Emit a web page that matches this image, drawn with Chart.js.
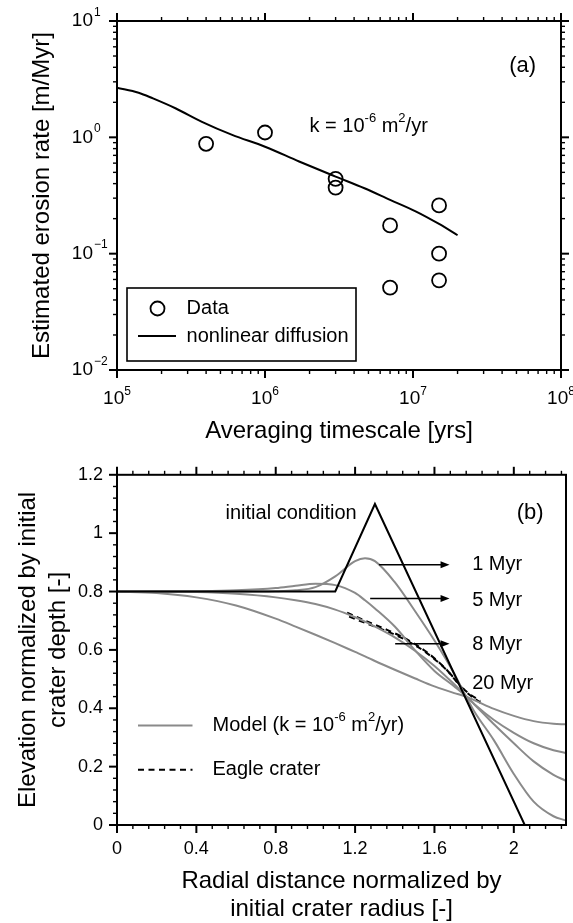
<!DOCTYPE html>
<html><head><meta charset="utf-8">
<script src="https://cdn.jsdelivr.net/npm/chart.js@4.4.0/dist/chart.umd.min.js"></script>
<style>
html,body{margin:0;padding:0;background:#fff;}
#wrap{position:relative;width:573px;height:923px;overflow:hidden;background:#fff;}
canvas{position:absolute;left:0;}
#ca{top:0;width:573px;height:450px;}
#cb{top:450px;width:573px;height:473px;}
</style></head><body>
<div id="wrap"><canvas id="ca" width="573" height="450"></canvas><canvas id="cb" width="573" height="473"></canvas></div>
<script>
// ---------------- Panel (a) data ----------------
const timescaleYrs  = [4e5, 1e6, 3e6, 3e6, 7e6, 7e6, 1.5e7, 1.5e7, 1.5e7];
const erosionRate   = [0.88, 1.10, 0.44, 0.37, 0.175, 0.051, 0.26, 0.10, 0.059];
const diffusionYrs  = [1e5, 1.4e5, 1.75e5, 2.5e5, 3.75e5, 6e5, 1e6, 1.7e6, 3e6, 4.7e6, 7e6, 1.05e7, 1.5e7, 2e7];
const diffusionRate = [2.67, 2.42, 2.16, 1.77, 1.36, 1.05, 0.83, 0.62, 0.46, 0.365, 0.29, 0.23, 0.18, 0.144];
const decadeTicksX  = [1e5, 1e6, 1e7, 1e8];
const decadeTicksY  = [1e-2, 1e-1, 1e0, 1e1];

// ---------------- Panel (b) data ----------------
const radialDist = [0, 0.2, 0.4, 0.6, 0.8, 0.9, 1.0, 1.1, 1.2, 1.25, 1.3, 1.4, 1.5, 1.6, 1.7, 1.75, 1.8, 1.9, 2.0, 2.1, 2.2, 2.26];
const model1Myr  = [0.8, 0.8, 0.8, 0.8, 0.801, 0.804, 0.815, 0.852, 0.904, 0.914, 0.904, 0.832, 0.735, 0.632, 0.518, 0.452, 0.39, 0.29, 0.175, 0.08, 0.03, 0.016];
const model5Myr  = [0.8, 0.8, 0.801, 0.804, 0.812, 0.82, 0.827, 0.822, 0.795, 0.77, 0.742, 0.68, 0.6, 0.528, 0.475, 0.447, 0.414, 0.345, 0.28, 0.218, 0.172, 0.152];
const model8Myr  = [0.8, 0.8, 0.798, 0.792, 0.78, 0.77, 0.757, 0.738, 0.712, 0.697, 0.68, 0.643, 0.598, 0.545, 0.482, 0.448, 0.415, 0.36, 0.316, 0.28, 0.256, 0.247];
const model20Myr = [0.8, 0.795, 0.78, 0.752, 0.707, 0.68, 0.652, 0.623, 0.593, 0.578, 0.562, 0.532, 0.503, 0.475, 0.452, 0.442, 0.428, 0.398, 0.374, 0.356, 0.347, 0.345];
const initialX   = [0, 1.1, 1.3, 2.055];
const initialY   = [0.8, 0.8, 1.1, 0];
const eagleX1    = [1.16, 1.25, 1.35, 1.45, 1.55, 1.65, 1.75, 1.85];
const eagleY1    = [0.728, 0.70, 0.672, 0.64, 0.598, 0.54, 0.462, 0.41];
const eagleX2    = [1.17, 1.26, 1.36, 1.46, 1.56, 1.66, 1.76, 1.83];
const eagleY2    = [0.714, 0.69, 0.664, 0.632, 0.59, 0.532, 0.458, 0.425];
const modelLabels = ['1 Myr', '5 Myr', '8 Myr', '20 Myr'];

// ---------------- helpers ----------------
const FONT = "'Liberation Sans', Arial, Helvetica, sans-serif";
Chart.defaults.font.family = FONT;
Chart.defaults.color = '#000';
const GRAY = '#8a8a8a';
function pts(xs, ys) { return xs.map((x, i) => ({x, y: ys[i]})); }
function seg(ctx, x1, y1, x2, y2) { ctx.beginPath(); ctx.moveTo(x1, y1); ctx.lineTo(x2, y2); ctx.stroke(); }
function richText(ctx, parts, x, y, align, base, sup, raise) {
  let w = 0;
  const ws = parts.map(([t, s]) => { ctx.font = (s ? sup : base) + 'px ' + FONT; const m = ctx.measureText(t).width; w += m; return m; });
  let cx = align === 'center' ? x - w / 2 : (align === 'right' ? x - w : x);
  ctx.textAlign = 'left'; ctx.textBaseline = 'middle';
  parts.forEach(([t, s], i) => { ctx.font = (s ? sup : base) + 'px ' + FONT; ctx.fillText(t, cx, s ? y - raise : y); cx += ws[i]; });
}
function expStr(v) { const e = Math.round(Math.log10(v)); return e < 0 ? '\u2212' + (-e) : String(e); }

// ---------------- Panel (a) decorations ----------------
const panelA = {
  id: 'panelA',
  afterDraw(chart) {
    const {ctx, chartArea: a, scales: {x, y}} = chart;
    ctx.save();
    ctx.strokeStyle = '#000'; ctx.fillStyle = '#000';
    ctx.lineWidth = 1.4;
    for (let d = 5; d < 8; d++) for (let m = 2; m <= 9; m++) {
      const px = x.getPixelForValue(m * Math.pow(10, d));
      seg(ctx, px, a.bottom, px, a.bottom + 4); seg(ctx, px, a.top, px, a.top - 4);
    }
    for (let d = -2; d < 1; d++) for (let m = 2; m <= 9; m++) {
      const py = y.getPixelForValue(m * Math.pow(10, d));
      seg(ctx, a.left, py, a.left - 4, py); seg(ctx, a.right, py, a.right + 4, py);
    }
    ctx.lineWidth = 2;
    decadeTicksX.forEach(v => { const px = x.getPixelForValue(v); seg(ctx, px, a.bottom, px, a.bottom + 8); seg(ctx, px, a.top, px, a.top - 8); });
    decadeTicksY.forEach(v => { const py = y.getPixelForValue(v); seg(ctx, a.left, py, a.left - 8, py); seg(ctx, a.right, py, a.right + 8, py); });
    ctx.strokeRect(a.left, a.top, a.right - a.left, a.bottom - a.top);
    // tick labels
    decadeTicksX.forEach(v => richText(ctx, [['10', 0], [expStr(v), 1]], x.getPixelForValue(v), a.bottom + 29, 'center', 19, 12, 7.5));
    decadeTicksY.forEach(v => {
      const py = y.getPixelForValue(v);
      ctx.font = '19px ' + FONT; ctx.textAlign = 'right'; ctx.textBaseline = 'middle';
      ctx.fillText('10', a.left - 24, py);
      ctx.font = '12px ' + FONT; ctx.textAlign = 'left';
      ctx.fillText(expStr(v), a.left - 23, py - 8.5);
    });
    // annotations
    ctx.font = '22px ' + FONT; ctx.textAlign = 'center'; ctx.textBaseline = 'middle';
    ctx.fillText('(a)', x.getPixelForValue(5.5e7), y.getPixelForValue(4.1));
    richText(ctx, [['k = 10', 0], ['-6', 1], [' m', 0], ['2', 1], ['/yr', 0]], x.getPixelForValue(2e6), y.getPixelForValue(1.23), 'left', 20, 13, 8);
    // legend box
    const ds = chart.data.datasets;
    const L = a.left + 10, T = a.top + 267, R = a.left + 239, B = a.top + 340;
    ctx.lineWidth = 1.6; ctx.strokeRect(L, T, R - L, B - T);
    ctx.lineWidth = ds[0].pointBorderWidth; ctx.strokeStyle = ds[0].pointBorderColor;
    ctx.beginPath(); ctx.arc(a.left + 40.5, a.top + 287.5, ds[0].pointRadius, 0, Math.PI * 2); ctx.stroke();
    ctx.lineWidth = ds[1].borderWidth; ctx.strokeStyle = ds[1].borderColor;
    seg(ctx, a.left + 21, a.top + 315, a.left + 59, a.top + 315);
    ctx.font = '20px ' + FONT; ctx.textAlign = 'left'; ctx.textBaseline = 'middle'; ctx.fillStyle = '#000';
    ctx.fillText(ds[0].label, a.left + 69.6, a.top + 287.5);
    ctx.fillText(ds[1].label, a.left + 69.6, a.top + 315);
    ctx.restore();
  }
};

new Chart(document.getElementById('ca'), {
  type: 'scatter',
  data: { datasets: [
    { label: 'Data', data: pts(timescaleYrs, erosionRate), showLine: false, pointRadius: 7, pointHoverRadius: 7,
      pointBackgroundColor: 'rgba(0,0,0,0)', pointBorderColor: '#000', pointBorderWidth: 1.8 },
    { label: 'nonlinear diffusion', data: pts(diffusionYrs, diffusionRate), showLine: true, pointRadius: 0,
      borderColor: '#000', borderWidth: 2, cubicInterpolationMode: 'monotone', fill: false }
  ]},
  options: {
    responsive: false, animation: false, devicePixelRatio: 1,
    layout: { padding: { left: 0, right: 12, top: 21, bottom: 0 }, autoPadding: false },
    plugins: { legend: { display: false }, tooltip: { enabled: false } },
    scales: {
      x: { type: 'logarithmic', position: 'bottom', min: 1e5, max: 1e8,
        grid: { display: false, drawTicks: false }, border: { display: false }, ticks: { display: false },
        title: { display: true, text: 'Averaging timescale [yrs]', color: '#000', font: { family: FONT, size: 24, lineHeight: 1.2 }, padding: { top: 0, bottom: 4 } },
        afterFit(s) { s.height = 80; } },
      y: { type: 'logarithmic', position: 'left', min: 0.01, max: 10,
        grid: { display: false, drawTicks: false }, border: { display: false }, ticks: { display: false },
        title: { display: true, text: 'Estimated erosion rate [m/Myr]', color: '#000', font: { family: FONT, size: 24, lineHeight: 1.2 }, padding: { top: 28, bottom: 0 } },
        afterFit(s) { s.width = 117; } }
    }
  },
  plugins: [panelA]
});

// ---------------- Panel (b) ----------------
const arrowSpecs = [ {from: 1.32, to: 1.676, y: 0.892}, {from: 1.276, to: 1.676, y: 0.776}, {from: 1.402, to: 1.676, y: 0.621} ];
const labelYs = [0.892, 0.769, 0.618, 0.485];

const panelB = {
  id: 'panelB',
  afterDraw(chart) {
    const {ctx, chartArea: a, scales: {x, y}} = chart;
    ctx.save();
    ctx.strokeStyle = '#000'; ctx.fillStyle = '#000';
    for (let k = 0; ; k++) {
      const v = k * 0.08; if (v > x.max + 1e-9) break;
      const px = x.getPixelForValue(v), len = k % 5 === 0 ? 8 : 4;
      ctx.lineWidth = k % 5 === 0 ? 2 : 1.4;
      seg(ctx, px, a.bottom, px, a.bottom + len); seg(ctx, px, a.top, px, a.top - len);
    }
    for (let k = 0; ; k++) {
      const v = k * 0.04; if (v > y.max + 1e-9) break;
      const py = y.getPixelForValue(v), len = k % 5 === 0 ? 8 : 4;
      ctx.lineWidth = k % 5 === 0 ? 2 : 1.4;
      seg(ctx, a.left, py, a.left - len, py);
    }
    ctx.lineWidth = 2;
    ctx.strokeRect(a.left, a.top, a.right - a.left, a.bottom - a.top);
    // arrows
    ctx.lineWidth = 1.4;
    arrowSpecs.forEach(s => {
      const x0 = x.getPixelForValue(s.from), x1 = x.getPixelForValue(s.to), py = y.getPixelForValue(s.y);
      seg(ctx, x0, py, x1 - 6, py);
      ctx.beginPath(); ctx.moveTo(x1, py); ctx.lineTo(x1 - 9, py - 3.5); ctx.lineTo(x1 - 9, py + 3.5); ctx.closePath(); ctx.fill();
    });
    ctx.font = '20px ' + FONT; ctx.textAlign = 'left'; ctx.textBaseline = 'middle';
    modelLabels.forEach((t, i) => ctx.fillText(t, x.getPixelForValue(1.79), y.getPixelForValue(labelYs[i])));
    ctx.fillText('initial condition', x.getPixelForValue(0.547), y.getPixelForValue(1.066));
    ctx.font = '22px ' + FONT; ctx.textAlign = 'center';
    ctx.fillText('(b)', x.getPixelForValue(2.082), y.getPixelForValue(1.07));
    // legend
    const ds = chart.data.datasets;
    const ly1 = a.top + 250.7, ly2 = a.top + 295;
    ctx.strokeStyle = ds[1].borderColor; ctx.lineWidth = ds[1].borderWidth;
    seg(ctx, a.left + 21, ly1, a.left + 75.5, ly1);
    ctx.strokeStyle = ds[5].borderColor; ctx.lineWidth = ds[5].borderWidth; ctx.setLineDash(ds[5].borderDash);
    seg(ctx, a.left + 21, ly2, a.left + 75.5, ly2);
    ctx.setLineDash([]);
    richText(ctx, [['Model (k = 10', 0], ['-6', 1], [' m', 0], ['2', 1], ['/yr)', 0]], a.left + 95.5, ly1, 'left', 20, 13, 8);
    ctx.font = '20px ' + FONT; ctx.textAlign = 'left'; ctx.fillStyle = '#000';
    ctx.fillText('Eagle crater', a.left + 95.5, ly2);
    ctx.restore();
  }
};

const lineDs = (label, xs, ys, color, extra) => Object.assign({
  label, data: pts(xs, ys), showLine: true, pointRadius: 0, borderColor: color, borderWidth: 2, fill: false
}, extra || {});

new Chart(document.getElementById('cb'), {
  type: 'scatter',
  data: { datasets: [
    lineDs('initial condition', initialX, initialY, '#000', { tension: 0 }),
    lineDs('1 Myr', radialDist, model1Myr, GRAY, { cubicInterpolationMode: 'monotone' }),
    lineDs('5 Myr', radialDist, model5Myr, GRAY, { cubicInterpolationMode: 'monotone' }),
    lineDs('8 Myr', radialDist, model8Myr, GRAY, { cubicInterpolationMode: 'monotone' }),
    lineDs('20 Myr', radialDist, model20Myr, GRAY, { cubicInterpolationMode: 'monotone' }),
    lineDs('Eagle crater', eagleX1, eagleY1, '#000', { borderDash: [6, 4.5], cubicInterpolationMode: 'monotone', borderWidth: 2 }),
    lineDs('Eagle crater 2', eagleX2, eagleY2, '#000', { borderDash: [6, 4.5], cubicInterpolationMode: 'monotone', borderWidth: 2 })
  ]},
  options: {
    responsive: false, animation: false, devicePixelRatio: 1,
    layout: { padding: { left: 0, right: 7, top: 16, bottom: 0 }, autoPadding: false },
    plugins: { legend: { display: false }, tooltip: { enabled: false } },
    scales: {
      x: { type: 'linear', position: 'bottom', min: 0, max: 2.263,
        grid: { display: false, drawTicks: false }, border: { display: false },
        ticks: { stepSize: 0.4, includeBounds: false, autoSkip: false, maxRotation: 0, padding: 13, color: '#000',
          font: { family: FONT, size: 18 }, callback: v => String(Math.round(v * 100) / 100) },
        title: { display: true, text: ['Radial distance normalized by', 'initial crater radius [-]'], color: '#000',
          font: { family: FONT, size: 24, lineHeight: '28px' }, padding: { top: 0, bottom: 0 } },
        afterFit(s) { s.height = 98; } },
      y: { type: 'linear', position: 'left', min: 0, max: 1.2,
        grid: { display: false, drawTicks: false }, border: { display: false },
        ticks: { stepSize: 0.2, includeBounds: false, autoSkip: false, padding: 14, color: '#000',
          font: { family: FONT, size: 18 }, callback: v => String(Math.round(v * 100) / 100) },
        title: { display: true, text: ['Elevation normalized by initial', 'crater depth [-]'], color: '#000',
          font: { family: FONT, size: 24, lineHeight: '30px' }, padding: { top: 13, bottom: 0 } },
        afterFit(s) { s.width = 117; } }
    }
  },
  plugins: [panelB]
});
</script>
</body></html>
